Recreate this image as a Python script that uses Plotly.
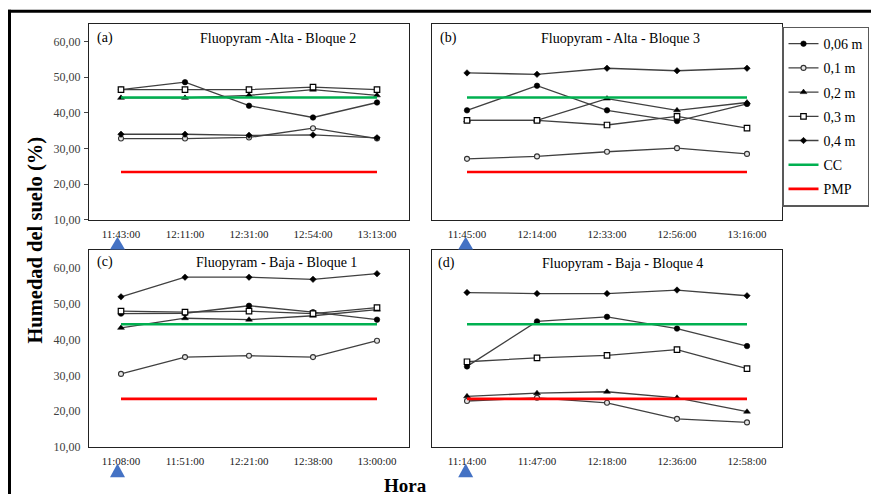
import plotly.graph_objects as go

W, H = 871, 501

# ---------------- data ----------------
series_names = ["0,06 m", "0,1 m", "0,2 m", "0,3 m", "0,4 m"]

cats_a = ["11:43:00", "12:11:00", "12:31:00", "12:54:00", "13:13:00"]
a_006 = [46.5, 48.6, 42.0, 38.7, 42.9]
a_01 = [32.8, 32.8, 33.1, 35.7, 32.8]
a_02 = [44.2, 44.2, 44.9, 46.5, 44.9]
a_03 = [46.5, 46.5, 46.5, 47.2, 46.5]
a_04 = [34.0, 34.0, 33.7, 33.8, 33.0]

cats_b = ["11:45:00", "12:14:00", "12:33:00", "12:56:00", "13:16:00"]
b_006 = [40.7, 47.6, 40.7, 37.7, 42.5]
b_01 = [27.1, 27.8, 29.1, 30.1, 28.5]
b_02 = [37.9, 37.9, 44.0, 40.7, 42.9]
b_03 = [37.9, 37.9, 36.6, 39.0, 35.7]
b_04 = [51.2, 50.8, 52.5, 51.8, 52.5]

cats_c = ["11:08:00", "11:51:00", "12:21:00", "12:38:00", "13:00:00"]
c_006 = [47.3, 47.4, 49.5, 47.7, 45.6]
c_01 = [30.4, 35.1, 35.5, 35.1, 39.7]
c_02 = [43.3, 46.0, 45.6, 46.7, 48.4]
c_03 = [48.0, 47.7, 48.0, 47.3, 49.0]
c_04 = [52.0, 57.5, 57.5, 56.9, 58.5]

cats_d = ["11:14:00", "11:47:00", "12:18:00", "12:36:00", "12:58:00"]
d_006 = [32.5, 45.1, 46.4, 43.1, 38.2]
d_01 = [22.8, 23.7, 22.3, 17.8, 16.8]
d_02 = [24.1, 25.0, 25.4, 23.7, 19.8]
d_03 = [33.8, 34.9, 35.6, 37.2, 31.9]
d_04 = [53.2, 52.9, 52.9, 53.9, 52.3]

cc_value = 44.3
pmp_value = 23.4

y_ticks = [10, 20, 30, 40, 50, 60]
y_ticktext = ["10,00", "20,00", "30,00", "40,00", "50,00", "60,00"]

titles = ["Fluopyram -Alta - Bloque 2", "Fluopyram - Alta - Bloque 3",
          "Fluopyram - Baja - Bloque 1", "Fluopyram - Baja - Bloque 4"]
letters = ["(a)", "(b)", "(c)", "(d)"]

panels = [
    (cats_a, [a_006, a_01, a_02, a_03, a_04]),
    (cats_b, [b_006, b_01, b_02, b_03, b_04]),
    (cats_c, [c_006, c_01, c_02, c_03, c_04]),
    (cats_d, [d_006, d_01, d_02, d_03, d_04]),
]

# ---------------- styling ----------------
FONT = "Liberation Serif, Times New Roman, serif"
LINE_COL = "#404040"
marker_styles = [
    dict(symbol="circle", size=5.5, color="black", line=dict(color="black", width=0.6)),
    dict(symbol="circle", size=5, color="#e6e6e6", line=dict(color="#333333", width=1.1)),
    dict(symbol="triangle-up", size=6, color="black", line=dict(color="black", width=0.5)),
    dict(symbol="square", size=5.5, color="white", line=dict(color="black", width=1.2)),
    dict(symbol="diamond", size=5, color="black", line=dict(color="black", width=0.5)),
]

def px(x):
    return x / W

def py(y):
    return 1 - y / H

# panel boxes in pixels: (x0, x1, y0, y1)
boxes = [(89, 409, 24, 223), (432, 782, 24, 223),
         (89, 409, 254, 453), (432, 782, 254, 453)]

fig = go.Figure()

for i, (cats, vals) in enumerate(panels):
    ax = "" if i == 0 else str(i + 1)
    xref, yref = "x" + ax, "y" + ax
    for j, (name, v) in enumerate(zip(series_names, vals)):
        fig.add_trace(go.Scatter(
            x=cats, y=v, name=name, mode="lines+markers",
            line=dict(color=LINE_COL, width=1.3),
            marker=marker_styles[j],
            xaxis=xref, yaxis=yref,
            legendgroup=name, showlegend=(i == 0),
        ))
    fig.add_trace(go.Scatter(
        x=cats, y=[cc_value] * len(cats), name="CC", mode="lines",
        line=dict(color="#00B050", width=2.6),
        xaxis=xref, yaxis=yref, legendgroup="CC", showlegend=(i == 0)))
    fig.add_trace(go.Scatter(
        x=cats, y=[pmp_value] * len(cats), name="PMP", mode="lines",
        line=dict(color="#FF0000", width=2.6),
        xaxis=xref, yaxis=yref, legendgroup="PMP", showlegend=(i == 0)))

    x0, x1, y0, y1 = boxes[i]
    show_y = i in (0, 2)
    fig.update_layout(**{
        "xaxis" + ax: dict(
            domain=[px(x0), px(x1)], anchor=yref, range=[-0.5, 4.5],
            showline=True, mirror=True, linecolor="#222222", linewidth=1.2,
            showgrid=False, zeroline=False, ticks="",
            tickfont=dict(family=FONT, size=11, color="#1a1a1a"),
            ticklabelstandoff=4,
        ),
        "yaxis" + ax: dict(
            domain=[py(y1), py(y0)], anchor=xref, range=[10, 65],
            showline=True, mirror=True, linecolor="#222222", linewidth=1.2,
            showgrid=False, zeroline=False,
            tickvals=y_ticks, ticktext=y_ticktext, showticklabels=show_y,
            ticks="outside" if i == 0 else "", ticklen=4, tickcolor="#444444",
            tickfont=dict(family=FONT, size=12, color="#404040"),
            ticklabelstandoff=1 if i == 0 else 5,
        ),
    })

annotations = []
title_pos = [(278, 39), (620, 39), (276, 266), (622, 267)]
letter_pos = [(105, 39), (448, 39), (105, 266), (446, 267)]
for i in range(4):
    annotations.append(dict(text=titles[i], x=px(title_pos[i][0]), y=py(title_pos[i][1]),
                            xref="paper", yref="paper", showarrow=False,
                            xanchor="center", yanchor="middle",
                            font=dict(family=FONT, size=14, color="black")))
    annotations.append(dict(text=letters[i], x=px(letter_pos[i][0]), y=py(letter_pos[i][1]),
                            xref="paper", yref="paper", showarrow=False,
                            xanchor="center", yanchor="middle",
                            font=dict(family=FONT, size=14, color="black")))

annotations.append(dict(text="<b>Humedad del suelo (%)</b>", x=px(36), y=py(244),
                        xref="paper", yref="paper", showarrow=False, textangle=-90,
                        xanchor="center", yanchor="middle",
                        font=dict(family=FONT, size=20.5, color="black")))
annotations.append(dict(text="<b>Hora</b>", x=px(405), y=py(504),
                        xref="paper", yref="paper", showarrow=False,
                        xanchor="center", yanchor="bottom", borderpad=0,
                        font=dict(family=FONT, size=19, color="black")))

shapes = []
# blue triangle markers
tri_centers = [(117.5, 240, 253), (465.7, 240, 253), (117.5, 470, 484), (465.7, 470, 484)]
for cx, ytop, ybot in tri_centers:
    path = "M {:.5f},{:.5f} L {:.5f},{:.5f} L {:.5f},{:.5f} Z".format(
        px(cx - 7.5), py(ybot), px(cx + 7.5), py(ybot), px(cx), py(ytop))
    shapes.append(dict(type="path", path=path, xref="paper", yref="paper",
                       fillcolor="#4472C4", line=dict(width=0)))
# outer frame (top and left)
shapes.append(dict(type="line", xref="paper", yref="paper",
                   x0=px(8), x1=1, y0=py(11.5), y1=py(11.5),
                   line=dict(color="black", width=3)))
shapes.append(dict(type="line", xref="paper", yref="paper",
                   x0=px(9.5), x1=px(9.5), y0=py(10), y1=0,
                   line=dict(color="black", width=3)))

fig.update_layout(
    width=W, height=H,
    margin=dict(l=0, r=0, t=0, b=0),
    paper_bgcolor="white", plot_bgcolor="white",
    font=dict(family=FONT, color="black"),
    annotations=annotations, shapes=shapes,
    legend=dict(
        x=px(869), y=py(27), xanchor="right", yanchor="top",
        bordercolor="#595959", borderwidth=1.5, bgcolor="white",
        font=dict(family=FONT, size=14, color="black"),
        tracegroupgap=3, itemwidth=30,
    ),
)

fig.write_html("out.html")
